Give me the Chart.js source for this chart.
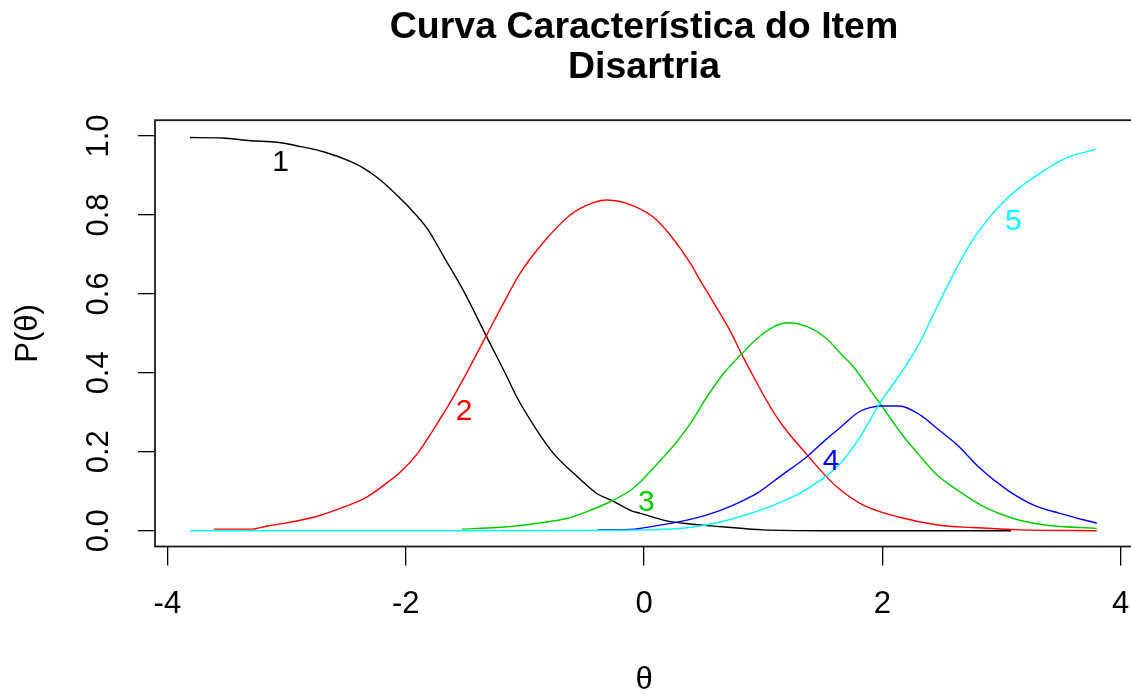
<!DOCTYPE html>
<html>
<head>
<meta charset="utf-8">
<script src="https://cdn.jsdelivr.net/npm/chart.js@4.4.1/dist/chart.umd.min.js"></script>
<style>
  html, body { margin: 0; padding: 0; background: #ffffff; overflow: hidden; }
  #wrap { width: 1140px; height: 698px; }
</style>
</head>
<body>
<div id="wrap"><canvas id="c" width="1140" height="698"></canvas></div>
<script>
// Texts
const titleLines = ['Curva Característica do Item', 'Disartria'];
const xTitle = 'θ';
const yTitle = 'P(θ)';

// Axis ticks
const xTicks = [-4, -2, 0, 2, 4];
const xTickLabels = ['-4', '-2', '0', '2', '4'];
const yTicks = [0, 0.2, 0.4, 0.6, 0.8, 1.0];
const yTickLabels = ['0.0', '0.2', '0.4', '0.6', '0.8', '1.0'];

// Response categories
const categoryNames = ['1', '2', '3', '4', '5'];
const categoryColors = ['#000000', '#FF0000', '#00CD00', '#0000FF', '#00FFFF'];

// Category 1
const theta1 = [-3.81, -3.54, -3.30, -3.08, -2.88, -2.69, -2.46, -2.35, -2.21, -2.06, -1.99, -1.82, -1.68, -1.51, -1.32, -1.15, -1.07, -0.90, -0.76, -0.56, -0.39, -0.28, -0.11, -0.03, 0.19, 0.39, 0.66, 1.00, 1.50, 2.00, 2.50, 3.08];
const prob1  = [0.996, 0.995, 0.988, 0.984, 0.973, 0.960, 0.935, 0.918, 0.888, 0.846, 0.825, 0.766, 0.694, 0.605, 0.491, 0.390, 0.340, 0.255, 0.196, 0.137, 0.093, 0.078, 0.051, 0.044, 0.025, 0.017, 0.010, 0.002, 0.000, 0.000, 0.000, 0.000];

// Category 2
const theta2 = [-3.61, -3.30, -3.16, -3.00, -2.75, -2.52, -2.35, -2.18, -2.04, -1.90, -1.77, -1.63, -1.49, -1.32, -1.18, -1.04, -0.84, -0.62, -0.48, -0.31, -0.20, -0.09, 0.08, 0.22, 0.39, 0.47, 0.57, 0.72, 0.83, 0.95, 1.06, 1.17, 1.37, 1.53, 1.65, 1.84, 2.12, 2.48, 2.76, 3.16, 3.80];
const prob2  = [0.004, 0.004, 0.012, 0.020, 0.036, 0.060, 0.081, 0.116, 0.150, 0.196, 0.255, 0.323, 0.399, 0.496, 0.576, 0.652, 0.732, 0.800, 0.825, 0.838, 0.834, 0.823, 0.794, 0.749, 0.677, 0.635, 0.585, 0.508, 0.441, 0.373, 0.314, 0.264, 0.192, 0.137, 0.103, 0.065, 0.036, 0.014, 0.008, 0.002, 0.000];

// Category 3
const theta3 = [-1.53, -1.23, -1.01, -0.86, -0.65, -0.50, -0.28, -0.11, -0.03, 0.14, 0.25, 0.39, 0.53, 0.67, 0.81, 0.95, 1.09, 1.20, 1.37, 1.53, 1.65, 1.76, 1.90, 2.00, 2.18, 2.32, 2.46, 2.63, 2.85, 3.10, 3.38, 3.80];
const prob3  = [0.004, 0.008, 0.014, 0.020, 0.031, 0.046, 0.074, 0.103, 0.124, 0.179, 0.216, 0.272, 0.340, 0.399, 0.445, 0.487, 0.517, 0.527, 0.517, 0.487, 0.449, 0.414, 0.356, 0.314, 0.238, 0.188, 0.141, 0.103, 0.061, 0.031, 0.014, 0.006];

// Category 4
const theta4 = [-0.39, -0.08, -0.03, 0.30, 0.53, 0.75, 0.95, 1.14, 1.37, 1.53, 1.65, 1.81, 2.01, 2.14, 2.32, 2.46, 2.63, 2.82, 3.05, 3.27, 3.49, 3.80];
const prob4  = [0.002, 0.004, 0.006, 0.023, 0.040, 0.065, 0.095, 0.137, 0.188, 0.232, 0.262, 0.302, 0.316, 0.316, 0.293, 0.259, 0.217, 0.158, 0.103, 0.065, 0.044, 0.019];

// Category 5
const theta5 = [-3.81, -2.00, -1.00, -0.20, 0.00, 0.27, 0.53, 0.81, 1.09, 1.31, 1.48, 1.65, 1.81, 1.98, 2.18, 2.32, 2.46, 2.60, 2.74, 2.88, 3.02, 3.16, 3.33, 3.55, 3.79];
const prob5  = [0.000, 0.000, 0.000, 0.001, 0.002, 0.005, 0.015, 0.036, 0.065, 0.095, 0.128, 0.171, 0.236, 0.323, 0.410, 0.480, 0.568, 0.652, 0.728, 0.787, 0.834, 0.871, 0.907, 0.945, 0.966];

// In-plot category labels (data coordinates)
const labelTheta = [-3.05, -1.51, 0.02, 1.57, 3.10];
const labelProb  = [0.932, 0.302, 0.070, 0.175, 0.783];

const thetas = [theta1, theta2, theta3, theta4, theta5];
const probs = [prob1, prob2, prob3, prob4, prob5];

const FONT = "'Liberation Sans', Arial, Helvetica, sans-serif";

const datasets = categoryNames.map((name, i) => ({
  label: name,
  data: thetas[i].map((t, k) => ({ x: t, y: probs[i][k] })),
  borderColor: categoryColors[i],
  backgroundColor: categoryColors[i],
  borderWidth: 1.4,
  pointRadius: 0,
  fill: false,
  cubicInterpolationMode: 'monotone',
  order: categoryNames.length - i
}));

// Box, tick labels, axis titles and curve labels in R base-graphics style
const decorations = {
  id: 'decorations',
  afterDraw(chart) {
    const ctx = chart.ctx;
    const a = chart.chartArea;
    const xs = chart.scales.x;
    const ys = chart.scales.y;
    ctx.save();

    ctx.strokeStyle = '#1a1a1a';
    ctx.lineWidth = 1.8;
    ctx.strokeRect(a.left, a.top, a.right - a.left, a.bottom - a.top);

    ctx.fillStyle = '#000000';
    ctx.font = '31px ' + FONT;
    ctx.textAlign = 'center';
    ctx.textBaseline = 'middle';
    xTicks.forEach((v, i) => {
      ctx.fillText(xTickLabels[i], xs.getPixelForValue(v), 604);
    });
    yTicks.forEach((v, i) => {
      ctx.save();
      ctx.translate(99, ys.getPixelForValue(v));
      ctx.rotate(-Math.PI / 2);
      ctx.fillText(yTickLabels[i], 0, 0);
      ctx.restore();
    });

    ctx.fillText(xTitle, (a.left + a.right) / 2, 680);
    ctx.save();
    ctx.translate(28, (a.top + a.bottom) / 2);
    ctx.rotate(-Math.PI / 2);
    ctx.fillText(yTitle, 0, 0);
    ctx.restore();

    ctx.font = '30px ' + FONT;
    categoryNames.forEach((name, i) => {
      ctx.fillStyle = categoryColors[i];
      ctx.fillText(name, xs.getPixelForValue(labelTheta[i]), ys.getPixelForValue(labelProb[i]));
    });
    ctx.restore();
  }
};

new Chart(document.getElementById('c'), {
  type: 'line',
  data: { datasets },
  options: {
    responsive: false,
    animation: false,
    devicePixelRatio: 1,
    layout: { padding: { left: 0, right: 7, top: 0, bottom: 0 } },
    plugins: {
      legend: { display: false },
      tooltip: { enabled: false },
      title: {
        display: true,
        text: titleLines,
        fullSize: false,
        color: '#000000',
        font: { family: FONT, size: 37.5, weight: 'bold', lineHeight: 40 / 37.5 },
        padding: { top: 7.5, bottom: 32.7 }
      }
    },
    scales: {
      x: {
        type: 'linear',
        min: -4.104,
        max: 4.104,
        afterBuildTicks: s => { s.ticks = xTicks.map(v => ({ value: v })); },
        afterFit: s => { s.height = 151.5; },
        ticks: { display: false },
        border: { display: false },
        grid: { drawOnChartArea: false, drawTicks: true, tickLength: 19, color: '#000000', lineWidth: 1.3 }
      },
      y: {
        type: 'linear',
        min: -0.04,
        max: 1.04,
        afterBuildTicks: s => { s.ticks = yTicks.map(v => ({ value: v })); },
        afterFit: s => { s.width = 155; },
        ticks: { display: false },
        border: { display: false },
        grid: { drawOnChartArea: false, drawTicks: true, tickLength: 17, color: '#000000', lineWidth: 1.3 }
      }
    }
  },
  plugins: [decorations]
});
</script>
</body>
</html>
